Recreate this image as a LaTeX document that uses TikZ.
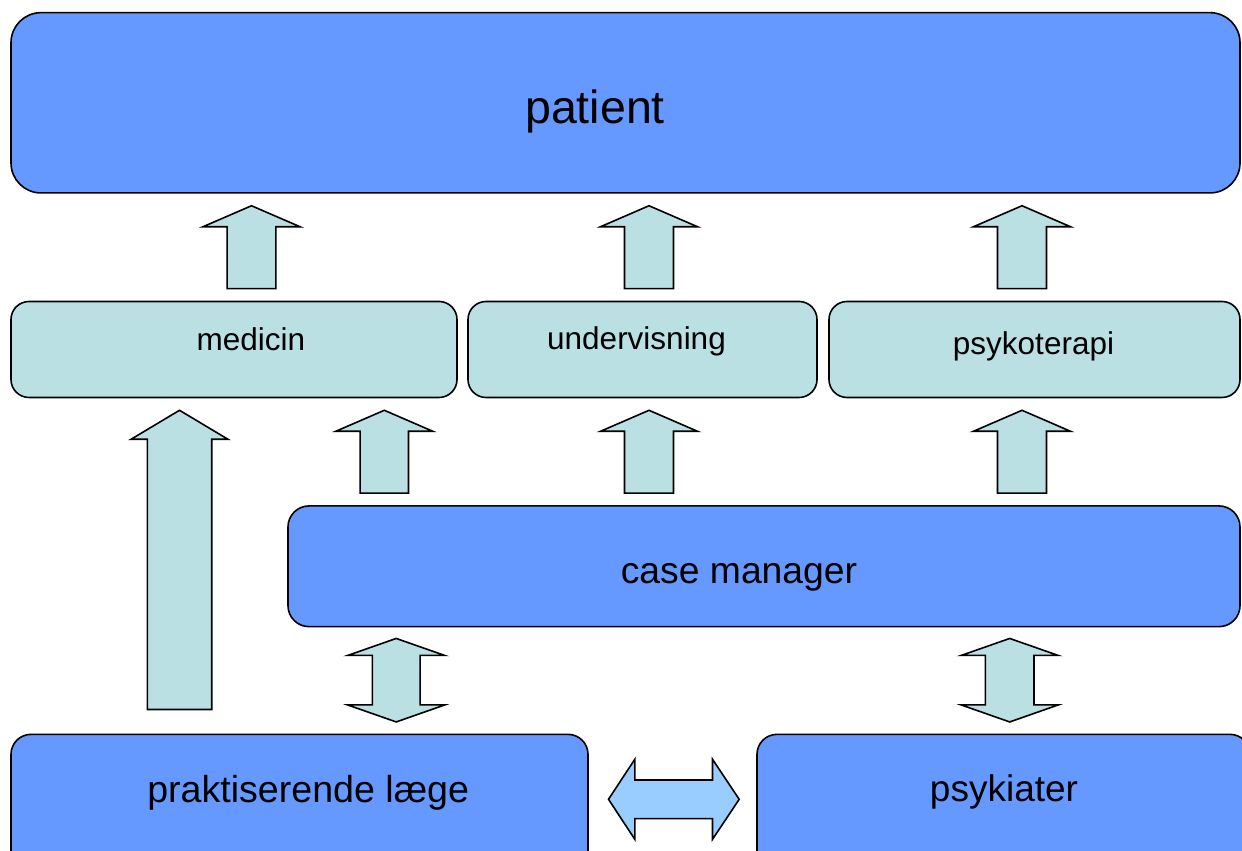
\documentclass[tikz,border=0pt]{standalone}
\usepackage{fontspec}
\setmainfont{Liberation Sans}
\usetikzlibrary{calc}

\definecolor{boxblue}{HTML}{6699FF}
\definecolor{boxcyan}{HTML}{BBE0E3}
\definecolor{arrowblue}{HTML}{99CCFF}

% block arrow pointing up: lower node, upper node, x centre, shaft width, head depth, gap below
\newcommand{\blockup}[6]{%
  \draw[blockarrow] let \p1=(#1.north), \p2=(#2.south) in
    (#3pt-0.5*#4pt, \y1+#6pt) -- (#3pt-0.5*#4pt, \y2-12pt-#5pt) -- (#3pt-48.5pt, \y2-12pt-#5pt)
    -- (#3pt, \y2-12pt) -- (#3pt+48.5pt, \y2-12pt-#5pt) -- (#3pt+0.5*#4pt, \y2-12pt-#5pt)
    -- (#3pt+0.5*#4pt, \y1+#6pt) -- cycle;}

% block arrow up and down: lower node, upper node, x centre, shaft width
\newcommand{\blockupdown}[4]{%
  \draw[blockarrow] let \p1=(#1.north), \p2=(#2.south) in
    (#3pt-0.5*#4pt, \y1+28.6pt) -- (#3pt-48.5pt, \y1+28.6pt) -- (#3pt, \y1+11.6pt)
    -- (#3pt+48.5pt, \y1+28.6pt) -- (#3pt+0.5*#4pt, \y1+28.6pt) -- (#3pt+0.5*#4pt, \y2-28pt)
    -- (#3pt+48.5pt, \y2-28pt) -- (#3pt, \y2-11pt) -- (#3pt-48.5pt, \y2-28pt)
    -- (#3pt-0.5*#4pt, \y2-28pt) -- cycle;}

% block arrow left and right: left node, right node, y centre
\newcommand{\blockleftright}[3]{%
  \draw[blockarrow, fill=arrowblue] let \p1=(#1.east), \p2=(#2.west) in
    (\x1+19.7pt, #3pt) -- (\x1+46pt, #3pt+40pt) -- (\x1+46pt, #3pt+19.3pt)
    -- (\x2-43.7pt, #3pt+19.3pt) -- (\x2-43.7pt, #3pt+40pt) -- (\x2-17pt, #3pt)
    -- (\x2-43.7pt, #3pt-40pt) -- (\x2-43.7pt, #3pt-19.3pt) -- (\x1+46pt, #3pt-19.3pt)
    -- (\x1+46pt, #3pt-40pt) -- cycle;}

\begin{document}
\begin{tikzpicture}[x=1pt, y=1pt,
  bigbox/.style={draw, line width=1.6pt, fill=boxblue, rectangle, rounded corners=#1, inner sep=0pt},
  smallbox/.style={draw, line width=1.6pt, fill=boxcyan, rectangle, rounded corners=18pt, inner sep=0pt,
    minimum height=96pt},
  blockarrow/.style={draw, line width=1.6pt, fill=boxcyan, line join=miter},
  lbl/.style={anchor=base, inner sep=0pt, font=\fontsize{#1}{#1}\selectfont}]
  \useasboundingbox (0,0) rectangle (1242,851);
  \clip (0,0) rectangle (1242,851);

  % top box
  \node[bigbox=30pt, minimum width=1229pt, minimum height=180.3pt] (patient) at (625.5,748.2) {};
  \node[lbl=46.5] (patienttxt) at (595,727) {patient};

  % treatment row
  \node[smallbox, minimum width=446pt] (medicin) at (234,501.5) {};
  \node[smallbox, minimum width=349pt] (undervisning) at (642.5,501.5) {};
  \node[smallbox, minimum width=411pt] (psykoterapi) at (1034.5,501.5) {};
  \node[lbl=31.5] (medicintxt) at (251,500.5) {medicin};
  \node[lbl=31.5] (undervisningtxt) at (636.5,501) {undervisning};
  \node[lbl=31.5] (psykoterapitxt) at (1033.5,496) {psykoterapi};

  % case manager
  \node[bigbox=21pt, minimum width=952pt, minimum height=120.7pt] (casemanager) at (764,284.7) {};
  \node[lbl=37.3] (casemanagertxt) at (739,267.7) {case manager};

  % bottom row
  \node[bigbox=20pt, minimum width=577pt, minimum height=140.7pt] (praktiserende) at (299.5,46.3) {};
  \node[bigbox=20pt, minimum width=493pt, minimum height=140.7pt] (psykiater) at (1003.5,46.3) {};
  \node[lbl=37.6] (praktiserendetxt) at (308.2,48.7) {praktiserende læge};
  \node[lbl=37] (psykiatertxt) at (1004,49.3) {psykiater};

  % arrows into patient
  \blockup{medicin}{patient}{251.5}{48.7}{21}{12}
  \blockup{undervisning}{patient}{649}{49}{21}{12}
  \blockup{psykoterapi}{patient}{1022}{49}{21}{12}

  % arrows into the treatment row
  \blockup{praktiserende}{medicin}{179.5}{64.4}{29}{24}
  \blockup{casemanager}{medicin}{384.3}{48.3}{21}{12}
  \blockup{casemanager}{undervisning}{649}{49}{21}{12}
  \blockup{casemanager}{psykoterapi}{1022}{49}{21}{12}

  % two way arrows
  \blockupdown{praktiserende}{casemanager}{396.2}{47.7}
  \blockupdown{psykiater}{casemanager}{1009.7}{48.6}
  \blockleftright{praktiserende}{psykiater}{51.7}
\end{tikzpicture}
\end{document}
